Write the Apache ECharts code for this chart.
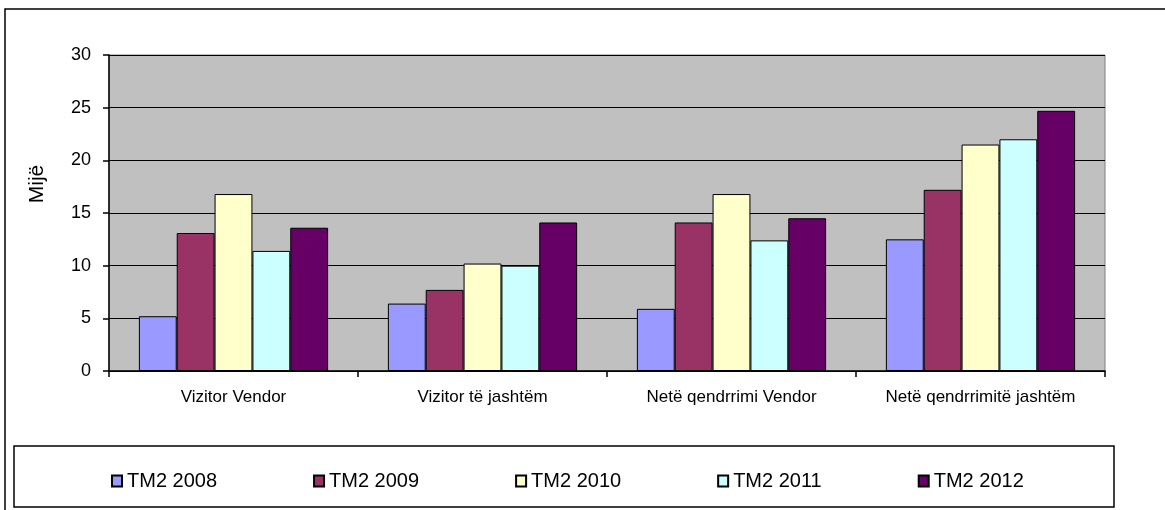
<!DOCTYPE html>
<html lang="sq">
<head>
    <meta charset="UTF-8">
    <title>TM2 2008 - 2012</title>
    <script src="https://cdn.jsdelivr.net/npm/echarts@6.0.0/dist/echarts.min.js"></script>
    <style>
        html, body { margin: 0; padding: 0; background: #fff; }
        #main { width: 1165px; height: 510px; }
    </style>
</head>
<body>
    <div id="main"></div>

    <script>
        // kategorite dhe vlerat (ne mije)
        var kategorite = ['Vizitor Vendor', 'Vizitor të jashtëm', 'Netë qendrrimi Vendor', 'Netë qendrrimitë jashtëm'];
        var vitet = ['TM2 2008', 'TM2 2009', 'TM2 2010', 'TM2 2011', 'TM2 2012'];
        var ngjyrat = ['#9999FF', '#993366', '#FFFFCC', '#CCFFFF', '#660066'];

        var tm2_2008 = [5.2, 6.4, 5.9, 12.5];
        var tm2_2009 = [13.1, 7.7, 14.1, 17.2];
        var tm2_2010 = [16.8, 10.2, 16.8, 21.5];
        var tm2_2011 = [11.4, 10.0, 12.4, 22.0];
        var tm2_2012 = [13.6, 14.1, 14.5, 24.7];
        var vlerat = [tm2_2008, tm2_2009, tm2_2010, tm2_2011, tm2_2012];

        var font = 'Arial, "Liberation Sans", sans-serif';
        var myChart = echarts.init(document.getElementById('main'));

        var series = vitet.map(function (emri, i) {
            return {
                name: emri,
                type: 'bar',
                data: vlerat[i],
                barGap: '0%',
                barCategoryGap: '24%',
                itemStyle: {
                    color: ngjyrat[i],
                    borderColor: '#000',
                    borderWidth: 1
                },
                emphasis: { disabled: true }
            };
        });

        var option = {
            animation: false,
            textStyle: { fontFamily: font },
            grid: {
                left: 109,
                right: 60,
                top: 55,
                bottom: 139,
                show: true,
                backgroundColor: '#C0C0C0',
                borderColor: '#808080',
                borderWidth: 1
            },
            legend: {
                left: 106,
                top: 466,
                icon: 'rect',
                itemWidth: 10,
                itemHeight: 11,
                itemGap: 96,
                textStyle: { fontSize: 20, color: '#000', fontFamily: font },
                data: vitet
            },
            xAxis: {
                type: 'category',
                data: kategorite,
                axisLine: { lineStyle: { color: '#000', width: 1.5 } },
                axisTick: { show: true, length: 6, lineStyle: { color: '#000', width: 1.5 } },
                axisLabel: { color: '#000', fontSize: 17, margin: 18, interval: 0 }
            },
            yAxis: {
                type: 'value',
                min: 0,
                max: 30,
                interval: 5,
                axisLine: { show: true, lineStyle: { color: '#000', width: 1.5 } },
                axisTick: { show: true, length: 6, lineStyle: { color: '#000', width: 1.5 } },
                axisLabel: { color: '#000', fontSize: 18, margin: 18 },
                splitLine: { show: true, lineStyle: { color: '#000', width: 1.2 } }
            },
            graphic: [
                {
                    type: 'rect',
                    shape: { x: 5, y: 9, width: 1200, height: 600 },
                    style: { fill: 'none', stroke: '#000', lineWidth: 1.5 },
                    silent: true,
                    z: -1
                },
                {
                    type: 'rect',
                    shape: { x: 14, y: 446, width: 1100, height: 61 },
                    style: { fill: 'none', stroke: '#000', lineWidth: 1.5 },
                    silent: true
                },
                {
                    // titulli i boshtit vertikal
                    type: 'text',
                    x: 37,
                    y: 184,
                    rotation: Math.PI / 2,
                    style: {
                        text: 'Mijë',
                        fontSize: 21,
                        fontFamily: font,
                        fill: '#000',
                        align: 'center',
                        verticalAlign: 'middle'
                    },
                    silent: true
                }
            ],
            series: series
        };

        myChart.setOption(option);
    </script>
</body>
</html>
